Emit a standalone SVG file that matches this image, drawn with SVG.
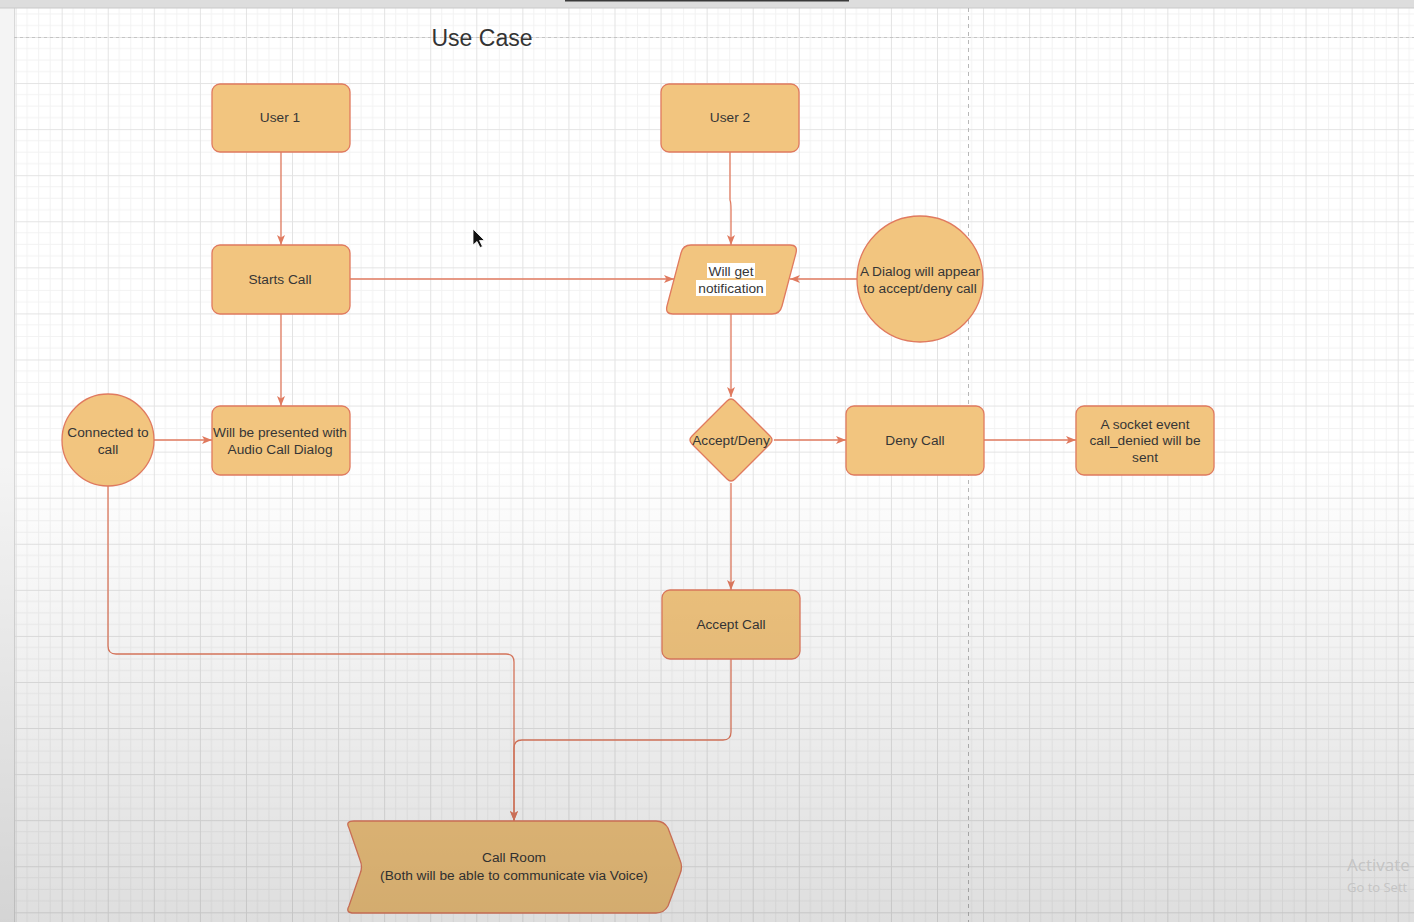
<svg xmlns="http://www.w3.org/2000/svg" width="1414" height="922" viewBox="0 0 1414 922">
<style>
.node{fill:#F2C57F;stroke:#E07A5F;stroke-width:1.3}
.lbl{font-family:"Liberation Sans",Arial,sans-serif;font-size:13.7px;fill:#363636;text-anchor:middle;dominant-baseline:central}
.edge{fill:none;stroke:#E07A5F;stroke-width:1.3}
.arr{marker-end:url(#arrow)}
</style>
<defs>
<marker id="arrow" viewBox="0 0 10 10" refX="10" refY="5" markerWidth="10" markerHeight="10" markerUnits="userSpaceOnUse" orient="auto">
<path d="M0,1 L10,5 L0,9 L2.5,5 Z" fill="#E07A5F"/>
</marker>
<pattern id="grid" patternUnits="userSpaceOnUse" x="15.6" y="37" width="46.07" height="46.07">
<path d="M11.52,0 V46.07 M23.04,0 V46.07 M34.55,0 V46.07 M0,11.52 H46.07 M0,23.04 H46.07 M0,34.55 H46.07" stroke="#f2f2f2" stroke-width="1" fill="none"/>
<path d="M0.5,0 V46.07 M0,0.5 H46.07" stroke="#e3e3e3" stroke-width="1" fill="none"/>
</pattern>
<linearGradient id="shade" x1="0" y1="0" x2="0" y2="1">
<stop offset="0.5" stop-color="#000" stop-opacity="0"/>
<stop offset="1" stop-color="#000" stop-opacity="0.13"/>
</linearGradient>
</defs>

<g id="background">
<rect x="0" y="0" width="1414" height="922" fill="#ffffff"/>
<rect x="0" y="0" width="14" height="922" fill="#f4f4f4"/>
<rect x="14" y="8" width="1400" height="914" fill="url(#grid)"/>
<line x1="14.5" y1="8" x2="14.5" y2="922" stroke="#d8d8d8" stroke-width="1"/>
<rect x="0" y="0" width="1414" height="8" fill="#dddddd"/>
<line x1="0" y1="8" x2="1414" y2="8" stroke="#c9c9c9" stroke-width="1"/>
<rect x="565" y="0" width="284" height="1.5" fill="#3a3a3a"/>
<line x1="14" y1="37.5" x2="1414" y2="37.5" stroke="#c4c4c4" stroke-width="1" stroke-dasharray="3,3"/>
<line x1="968.5" y1="8" x2="968.5" y2="922" stroke="#b8b8b8" stroke-width="1" stroke-dasharray="4,4"/>
</g>

<g id="title">
<text x="482" y="38" font-family="'Liberation Sans',Arial,sans-serif" font-size="23" fill="#333" text-anchor="middle" dominant-baseline="central">Use Case</text>
</g>

<g id="connectors">
<path class="edge arr" d="M281,152 V245"/>
<path class="edge arr" d="M730,152 V200 Q731,202 731,210 V245"/>
<path class="edge arr" d="M350,279 H674"/>
<path class="edge arr" d="M857,279 H790"/>
<path class="edge arr" d="M281,314 V406"/>
<path class="edge arr" d="M154,440 H212"/>
<path class="edge arr" d="M731,314 V397"/>
<path class="edge arr" d="M774,440 H846"/>
<path class="edge arr" d="M984,440 H1076"/>
<path class="edge arr" d="M731,483 V590"/>
<path class="edge arr" d="M108,486 V646 Q108,654 116,654 H506 Q514,654 514,662 V821"/>
<path class="edge arr" d="M731,659 V732 Q731,740 723,740 H522 Q514,740 514,748 V821"/>
</g>

<g id="user1">
<rect class="node" x="212" y="84" width="138" height="68" rx="8"/>
<text class="lbl" x="280" y="117">User 1</text>
</g>
<g id="user2">
<rect class="node" x="661" y="84" width="138" height="68" rx="8"/>
<text class="lbl" x="730" y="117">User 2</text>
</g>
<g id="starts-call">
<rect class="node" x="212" y="245" width="138" height="69" rx="8"/>
<text class="lbl" x="280" y="279">Starts Call</text>
</g>
<g id="will-get-notification">
<path class="node" d="M691,245 L790,245 Q798,245 796,253 L782,306 Q780,314 772,314 L673,314 Q665,314 667,306 L681,253 Q683,245 691,245 Z"/>
<rect x="707" y="263" width="48" height="15" fill="#ffffff"/>
<rect x="696" y="280" width="70" height="16" fill="#ffffff"/>
<text class="lbl" x="731" y="271">Will get</text>
<text class="lbl" x="731" y="288">notification</text>
</g>
<g id="dialog-circle">
<circle class="node" cx="920" cy="279" r="63"/>
<text class="lbl" x="920" y="271">A Dialog will appear</text>
<text class="lbl" x="920" y="288">to accept/deny call</text>
</g>
<g id="connected-circle">
<circle class="node" cx="108" cy="440" r="46"/>
<text class="lbl" x="108" y="432">Connected to</text>
<text class="lbl" x="108" y="449">call</text>
</g>
<g id="audio-dialog">
<rect class="node" x="212" y="406" width="138" height="69" rx="8"/>
<text class="lbl" x="280" y="432">Will be presented with</text>
<text class="lbl" x="280" y="449">Audio Call Dialog</text>
</g>
<g id="accept-deny">
<path class="node" d="M727,401 Q731,397 735,401 L770,436 Q774,440 770,444 L735,479 Q731,483 727,479 L692,444 Q688,440 692,436 Z"/>
<text class="lbl" x="731" y="440">Accept/Deny</text>
</g>
<g id="deny-call">
<rect class="node" x="846" y="406" width="138" height="69" rx="8"/>
<text class="lbl" x="915" y="440">Deny Call</text>
</g>
<g id="socket-event">
<rect class="node" x="1076" y="406" width="138" height="69" rx="8"/>
<text class="lbl" x="1145" y="424">A socket event</text>
<text class="lbl" x="1145" y="440">call_denied will be</text>
<text class="lbl" x="1145" y="457">sent</text>
</g>
<g id="accept-call">
<rect class="node" x="662" y="590" width="138" height="69" rx="8"/>
<text class="lbl" x="731" y="624">Accept Call</text>
</g>
<g id="call-room">
<path class="node" d="M354,821 L656,821 Q664,821 668,828 L680,860 Q683,867 680,874 L668,906 Q664,913 656,913 L354,913 Q345,913 349,906 L360,874 Q363,867 360,860 L349,828 Q345,821 354,821 Z"/>
<text class="lbl" x="514" y="857">Call Room</text>
<text class="lbl" x="514" y="875">(Both will be able to communicate via Voice)</text>
</g>

<g id="overlay">
<rect x="0" y="0" width="1414" height="922" fill="url(#shade)"/>
<path d="M473,229 L473,245 L477,241.5 L480,247.5 L482.5,246.5 L479.5,240.5 L484.5,240.5 Z" fill="#111" stroke="#fff" stroke-width="0.8"/>
<text x="1347" y="871" font-family="'Open Sans','Liberation Sans',sans-serif" font-size="17" fill="#c4c4c4">Activate</text>
<text x="1347" y="892" font-family="'Open Sans','Liberation Sans',sans-serif" font-size="13" fill="#c4c4c4">Go to Sett</text>
</g>
</svg>
